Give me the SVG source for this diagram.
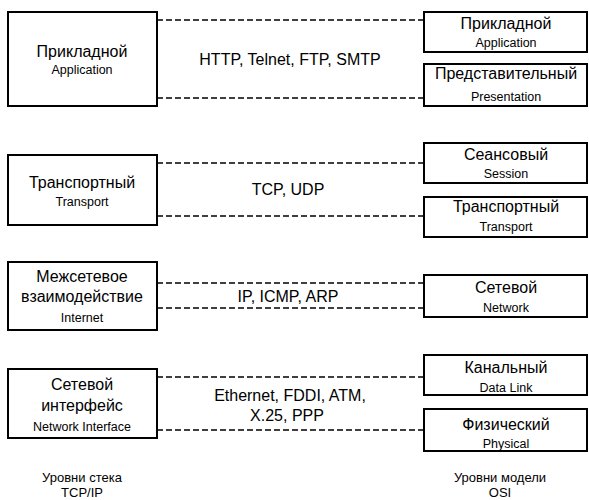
<svg xmlns="http://www.w3.org/2000/svg" width="589" height="500" viewBox="0 0 589 500">
<style>
.box{fill:#fff;stroke:#000;stroke-width:2}
.dash{stroke:#000;stroke-width:1.6;stroke-dasharray:6 3;fill:none}
.t{font-family:"Liberation Sans",Arial,sans-serif;font-size:16px;fill:#000;text-anchor:middle}
.s{font-family:"Liberation Sans",Arial,sans-serif;font-size:12.5px;fill:#000;text-anchor:middle}
.c{font-family:"Liberation Sans",Arial,sans-serif;font-size:13px;fill:#000;text-anchor:middle}
.p{font-family:"Liberation Sans",Arial,sans-serif;font-size:16px;fill:#000;text-anchor:middle}
</style>
<rect width="589" height="500" fill="#fff"/>
<g id="connectors">
<line class="dash" x1="157" y1="20" x2="423" y2="20"/>
<line class="dash" x1="157" y1="98" x2="423" y2="98"/>
<line class="dash" x1="157" y1="163" x2="423" y2="163"/>
<line class="dash" x1="157" y1="216" x2="423" y2="216"/>
<line class="dash" x1="157" y1="283" x2="423" y2="283"/>
<line class="dash" x1="157" y1="308" x2="423" y2="308"/>
<line class="dash" x1="157" y1="377" x2="423" y2="377"/>
<line class="dash" x1="157" y1="430" x2="423" y2="430"/>
</g>
<g id="tcp-app">
<rect class="box" x="8" y="12" width="149" height="94"/>
<text class="t" x="82" y="57">Прикладной</text>
<text class="s" x="82" y="74">Application</text>
</g>
<g id="proto-app"><text class="p" x="290" y="65">HTTP, Telnet, FTP, SMTP</text></g>
<g id="tcp-transport">
<rect class="box" x="8" y="155" width="149" height="70"/>
<text class="t" x="82" y="188">Транспортный</text>
<text class="s" x="82" y="206">Transport</text>
</g>
<g id="proto-transport"><text class="p" x="288" y="195">TCP, UDP</text></g>
<g id="tcp-internet">
<rect class="box" x="8" y="262" width="149" height="68"/>
<text class="t" x="82" y="282">Межсетевое</text>
<text class="t" x="82" y="302">взаимодействие</text>
<text class="s" x="82" y="322">Internet</text>
</g>
<g id="proto-internet"><text class="p" x="288" y="302">IP, ICMP, ARP</text></g>
<g id="tcp-netif">
<rect class="box" x="8" y="369" width="149" height="69"/>
<text class="t" x="82" y="390">Сетевой</text>
<text class="t" x="82" y="411">интерфейс</text>
<text class="s" x="82" y="431">Network Interface</text>
</g>
<g id="proto-netif">
<text class="p" x="290" y="401">Ethernet, FDDI, ATM,</text>
<text class="p" x="287" y="421">X.25, PPP</text>
</g>
<g id="osi-app">
<rect class="box" x="424" y="12" width="163" height="40"/>
<text class="t" x="506" y="29">Прикладной</text>
<text class="s" x="506" y="47">Application</text>
</g>
<g id="osi-pres">
<rect class="box" x="424" y="64" width="163" height="42"/>
<text class="t" x="506" y="79">Представительный</text>
<text class="s" x="506" y="101">Presentation</text>
</g>
<g id="osi-session">
<rect class="box" x="424" y="143" width="163" height="40"/>
<text class="t" x="506" y="160">Сеансовый</text>
<text class="s" x="506" y="178">Session</text>
</g>
<g id="osi-transport">
<rect class="box" x="424" y="197" width="163" height="40"/>
<text class="t" x="506" y="212">Транспортный</text>
<text class="s" x="506" y="231">Transport</text>
</g>
<g id="osi-network">
<rect class="box" x="424" y="275" width="163" height="42"/>
<text class="t" x="506" y="293">Сетевой</text>
<text class="s" x="506" y="312">Network</text>
</g>
<g id="osi-datalink">
<rect class="box" x="424" y="355" width="163" height="40"/>
<text class="t" x="506" y="373">Канальный</text>
<text class="s" x="506" y="392">Data Link</text>
</g>
<g id="osi-physical">
<rect class="box" x="424" y="409" width="163" height="42"/>
<text class="t" x="506" y="430">Физический</text>
<text class="s" x="506" y="448">Physical</text>
</g>
<g id="caption-tcp">
<text class="c" x="82" y="482">Уровни стека</text>
<text class="c" x="82" y="497">TCP/IP</text>
</g>
<g id="caption-osi">
<text class="c" x="500" y="482">Уровни модели</text>
<text class="c" x="500" y="497">OSI</text>
</g>
</svg>
